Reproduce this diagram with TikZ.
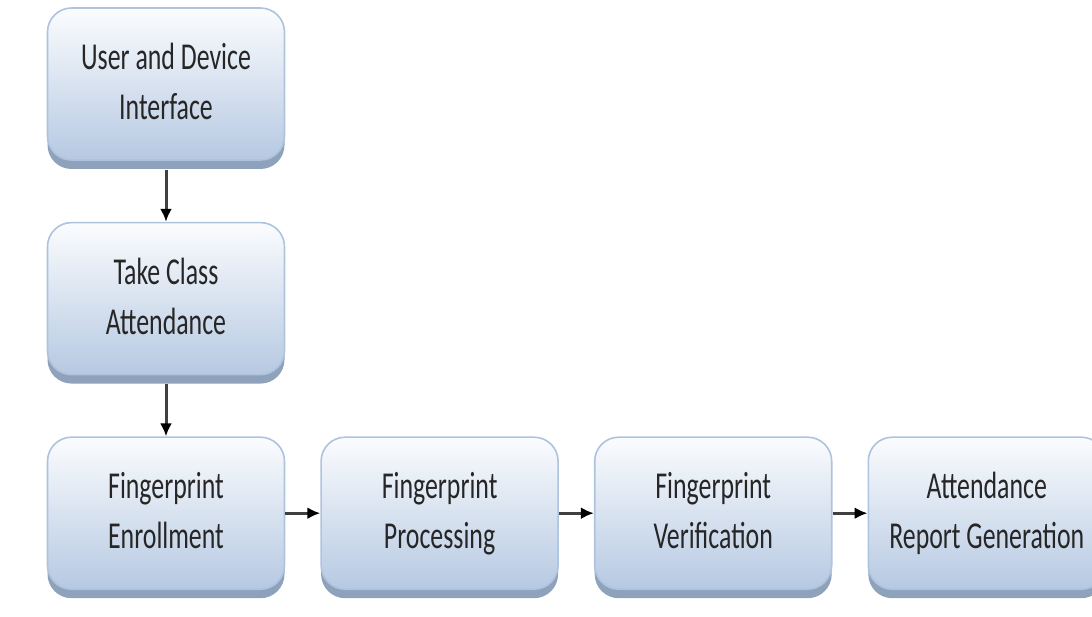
\documentclass[tikz,border=0pt]{standalone}
\usepackage{fontspec}
\usepackage{xcolor}
\newfontfamily\boxfont[FakeStretch=0.68]{Carlito}
\usetikzlibrary{positioning}
\usetikzlibrary{arrows.meta}
\usetikzlibrary{shadows}
\definecolor{boxtop}{HTML}{FBFCFE}
\definecolor{boxbottom}{HTML}{B6C9E2}
\definecolor{boxline}{HTML}{ADC3DE}
\definecolor{boxshadow}{HTML}{8FA2BB}
\begin{document}
\begin{tikzpicture}[x=1pt,y=1pt,
				stage/.style={rectangle,rounded corners=24pt,draw=boxline,line width=1.6pt,
					top color=boxtop,bottom color=boxbottom,
					drop shadow={shadow xshift=0pt,shadow yshift=-9pt,fill=boxshadow,opacity=1},
					minimum width=237pt,minimum height=152pt,align=center,
					execute at begin node={\rule{0pt}{40pt}},
					execute at end node={\rule[-5pt]{0pt}{5pt}},
					font=\boxfont\fontsize{38}{50}\selectfont,text=black!85},
				flow/.style={line width=3pt,draw=black!75,-{Latex[length=13pt,width=12pt,black]}},
				node distance=61pt and 35pt]
			\useasboundingbox (0,0) rectangle (1092,616);
			\node[stage] (device) at (166,532) {User and Device\\Interface};
			\node[stage,below=of device] (attend) {Take Class\\Attendance};
			\node[stage,below=of attend] (enroll) {Fingerprint\\Enrollment};
			\node[stage,right=of enroll] (process) {Fingerprint\\Processing};
			\node[stage,right=of process] (verify) {Fingerprint\\Verification};
			\node[stage,right=of verify] (report) {Attendance\\Report Generation};
			\draw[flow] ([yshift=-9pt]device.south) -- (attend.north);
			\draw[flow] ([yshift=-9pt]attend.south) -- (enroll.north);
			\foreach \a/\b in {enroll/process,process/verify,verify/report}
				\draw[flow] (\a.east) -- (\b.west);
			\end{tikzpicture}
\end{document}
